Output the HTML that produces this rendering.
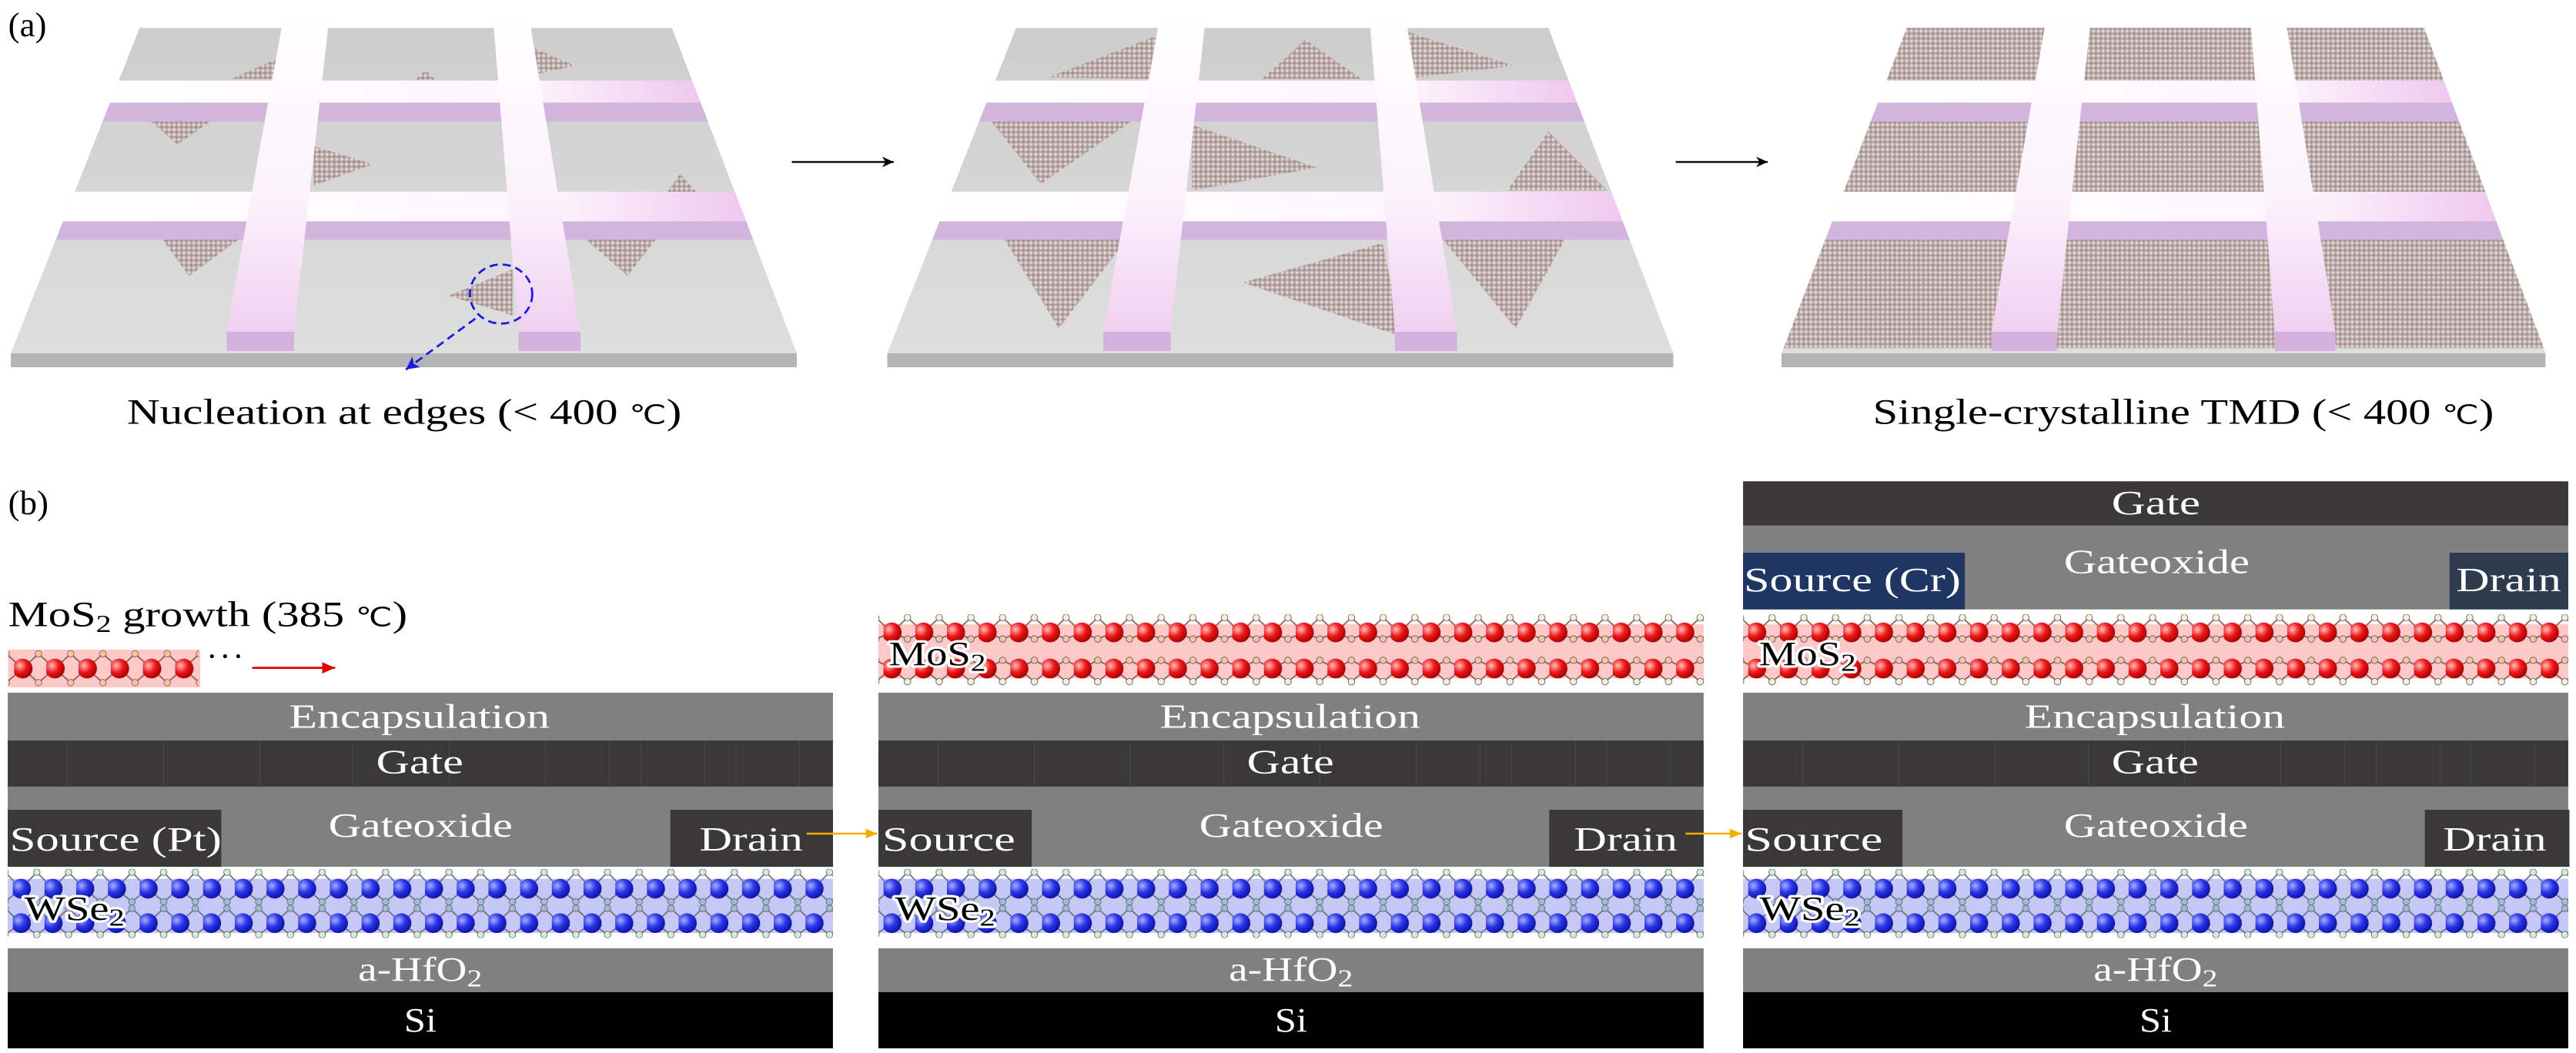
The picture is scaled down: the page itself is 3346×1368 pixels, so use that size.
<!DOCTYPE html>
<html><head><meta charset="utf-8"><style>
html,body{margin:0;padding:0;background:#fff;}
svg{display:block;}
text{font-family:"Liberation Serif",serif;}
</style></head><body>
<svg width="3346" height="1368" viewBox="0 0 1568 641.06" preserveAspectRatio="none" xmlns="http://www.w3.org/2000/svg">
<defs>
<linearGradient id="slabg" x1="0" y1="0" x2="0" y2="1"><stop offset="0" stop-color="#cdcdcd"/><stop offset="1" stop-color="#dedede"/></linearGradient>
<linearGradient id="hbar" x1="0" y1="0" x2="1" y2="0"><stop offset="0" stop-color="#ffffff"/><stop offset="0.7" stop-color="#fdf6fd"/><stop offset="1" stop-color="#efc8ef"/></linearGradient>
<linearGradient id="vbar" x1="0" y1="0" x2="0" y2="1"><stop offset="0" stop-color="#ffffff"/><stop offset="0.6" stop-color="#fcf0fc"/><stop offset="1" stop-color="#f0d0f0"/></linearGradient>
<radialGradient id="bg" cx="0.35" cy="0.35" r="0.7"><stop offset="0" stop-color="#a8b0ff"/><stop offset="0.5" stop-color="#2a35e8"/><stop offset="1" stop-color="#0a10a0"/></radialGradient>
<radialGradient id="rg" cx="0.35" cy="0.35" r="0.7"><stop offset="0" stop-color="#ffc0c0"/><stop offset="0.5" stop-color="#f01818"/><stop offset="1" stop-color="#a00000"/></radialGradient>
<pattern id="tex" patternUnits="userSpaceOnUse" width="3" height="3">
<rect width="3" height="3" fill="#b8aaa8"/><circle cx="1" cy="1" r="0.8" fill="#ecd8d2"/><circle cx="2.4" cy="2.4" r="0.5" fill="#8a7a7e"/>
</pattern>
<pattern id="wse" patternUnits="userSpaceOnUse" x="7.8" y="529" width="19.3" height="42">
<g stroke="#6d6a80" stroke-width="0.8" fill="none">
<polyline points="-4.7,2 5,12 14.6,2 24.3,12"/><polyline points="-4.7,20 5,12 14.6,20 24.3,12"/>
<polyline points="-4.7,24 5,33 14.6,24 24.3,33"/><polyline points="-4.7,40 5,33 14.6,40 24.3,33"/>
</g>
<g stroke="#4a6a7a" stroke-width="0.4">
<circle cx="14.6" cy="2" r="2" fill="#d9ecd2"/><circle cx="14.6" cy="40" r="2" fill="#d9ecd2"/>
<circle cx="14.6" cy="20" r="2" fill="#a8b8d0"/><circle cx="14.6" cy="24" r="2" fill="#a8b8d0"/>
<circle cx="-4.7" cy="2" r="2" fill="#d9ecd2"/><circle cx="-4.7" cy="40" r="2" fill="#d9ecd2"/>
<circle cx="-4.7" cy="20" r="2" fill="#a8b8d0"/><circle cx="-4.7" cy="24" r="2" fill="#a8b8d0"/>
</g>
<circle cx="5" cy="12" r="6" fill="url(#bg)"/><circle cx="5" cy="33" r="6" fill="url(#bg)"/>
</pattern>
<pattern id="mos" patternUnits="userSpaceOnUse" x="7.8" y="374" width="19.3" height="44">
<g stroke="#8a5a5a" stroke-width="0.8" fill="none">
<polyline points="-4.7,2 5,11 14.6,2 24.3,11"/><polyline points="-4.7,15 5,11 14.6,15 24.3,11"/>
<polyline points="-4.7,28 5,33 14.6,28 24.3,33"/><polyline points="-4.7,41 5,33 14.6,41 24.3,33"/>
</g>
<g stroke="#4a5a7a" stroke-width="0.4">
<circle cx="14.6" cy="2" r="2" fill="#fff3cc"/><circle cx="14.6" cy="41" r="2" fill="#fff3cc"/>
<circle cx="14.6" cy="15" r="2" fill="#f8c49a"/><circle cx="14.6" cy="28" r="2" fill="#f8c49a"/>
<circle cx="-4.7" cy="2" r="2" fill="#fff3cc"/><circle cx="-4.7" cy="41" r="2" fill="#fff3cc"/>
<circle cx="-4.7" cy="15" r="2" fill="#f8c49a"/><circle cx="-4.7" cy="28" r="2" fill="#f8c49a"/>
</g>
<circle cx="5" cy="11" r="6" fill="url(#rg)"/><circle cx="5" cy="33" r="6" fill="url(#rg)"/>
</pattern>
<pattern id="mos1" patternUnits="userSpaceOnUse" x="8.6" y="395" width="19.6" height="24">
<g stroke="#8a5a5a" stroke-width="0.8" fill="none">
<polyline points="-4.8,3 5.2,12 14.8,3 24.8,12"/><polyline points="-4.8,20.6 5.2,12 14.8,20.6 24.8,12"/>
</g>
<g stroke="#8a5a5a" stroke-width="0.4" fill="#f8c49a">
<circle cx="14.8" cy="3" r="2"/><circle cx="14.8" cy="20.6" r="2"/><circle cx="-4.8" cy="3" r="2"/><circle cx="-4.8" cy="20.6" r="2"/>
</g>
<circle cx="5.2" cy="12" r="6" fill="url(#rg)"/>
</pattern>
<marker id="mk" markerWidth="8" markerHeight="8" refX="7" refY="4" orient="auto" markerUnits="userSpaceOnUse"><path d="M0,0.8 L7,4 L0,7.2 L2,4 Z" fill="#000"/></marker>
<marker id="mr" markerWidth="9" markerHeight="8" refX="8" refY="4" orient="auto" markerUnits="userSpaceOnUse"><path d="M0,0.5 L8,4 L0,7.5 Z" fill="#e00000"/></marker>
<marker id="my" markerWidth="8" markerHeight="7" refX="7" refY="3.5" orient="auto" markerUnits="userSpaceOnUse"><path d="M0,0.5 L7,3.5 L0,6.5 Z" fill="#f0b000"/></marker>
<marker id="mb" markerWidth="9" markerHeight="8" refX="8" refY="4" orient="auto" markerUnits="userSpaceOnUse"><path d="M0,0 L8,4 L0,8 L2,4 Z" fill="#1a1ae0"/></marker>

<g id="slab">
<polygon points="6.6,215 485,215 485,223.6 6.6,223.6" fill="#b4b4b6"/>
<polygon points="85,17 409,17 485,215 6.6,215" fill="url(#slabg)"/>
</g>
<g id="bars">
<polygon points="72.3,49 421.3,49 426.5,62.5 67,62.5" fill="url(#hbar)"/>
<polygon points="67,62.5 426.5,62.5 430.9,74 62.4,74" fill="#d2b4dc"/>
<polygon points="45.5,116.7 447.3,116.7 454.2,134.8 38.4,134.8" fill="url(#hbar)"/>
<polygon points="38.4,134.8 454.2,134.8 458.5,146 34,146" fill="#d2b4dc"/>
<polygon points="172.6,10 200.5,10 179,202 138,202" fill="url(#vbar)"/>
<polygon points="138,202 179,202 179,213.7 138,213.7" fill="#d4b0dc"/>
<polygon points="300,10 322,10 353.4,202 315.6,202" fill="url(#vbar)"/>
<polygon points="315.6,202 353.4,202 353.4,213.7 315.6,213.7" fill="#d4b0dc"/>
</g>
</defs>

<text x="5" y="22" font-size="21" fill="#000">(a)</text>

<use href="#slab"/>
<g fill="url(#tex)">
<polygon points="168,36 141,48 168,48"/>
<polygon points="259,42.7 253,48.6 265,48.6"/>
<polygon points="322,28 322,46 350,40"/>
<polygon points="92,74 128,74 108,88"/>
<polygon points="191,89 191,113 227,100"/>
<polygon points="414,106 406,117 424,117"/>
<polygon points="99,146 145,146 115,168"/>
<polygon points="357,146 399,146 382,168"/>
<polygon points="312,164 312,192 273,180"/>
</g>
<use href="#bars"/>
<ellipse cx="305" cy="179" rx="19" ry="18" fill="none" stroke="#1a1ae0" stroke-width="1.3" stroke-dasharray="5,3"/>
<line x1="289.3" y1="194" x2="247" y2="225" stroke="#1a1ae0" stroke-width="1.3" stroke-dasharray="5,3" marker-end="url(#mb)"/>

<line x1="482" y1="98.6" x2="544" y2="98.6" stroke="#000" stroke-width="1.1" marker-end="url(#mk)"/>

<g transform="translate(533.5,0)">
<use href="#slab"/>
<g fill="url(#tex)">
<polygon points="170,22 105,47 169,48"/>
<polygon points="261,24 235,48 295,48"/>
<polygon points="322,19 322,48 388,40"/>
<polygon points="70,74 155,74 100,112"/>
<polygon points="192,76 192,116 268,102"/>
<polygon points="409,80 384,116 445,116"/>
<polygon points="78,146 152,146 111,200"/>
<polygon points="308,148 223,172 320,205"/>
<polygon points="345,146 419,146 389,200"/>
</g>
<use href="#bars"/>
</g>

<line x1="1020" y1="98.6" x2="1076" y2="98.6" stroke="#000" stroke-width="1.1" marker-end="url(#mk)"/>

<g transform="translate(1078,0) scale(0.972,1)">
<use href="#slab"/>
<g fill="url(#tex)">
<polygon points="85,17 171.3,17 165.6,49 72.3,49"/>
<polygon points="199.7,17 300.6,17 303.2,49 196.1,49"/>
<polygon points="323.1,17 409,17 421.3,49 328.4,49"/>
<polygon points="62.4,74 161.1,74 153.4,116.7 45.5,116.7"/>
<polygon points="193.3,74 305.2,74 308.7,116.7 188.6,116.7"/>
<polygon points="332.5,74 430.9,74 447.3,116.7 339.5,116.7"/>
<polygon points="33.9,146 148.1,146 139,212 8,212"/>
<polygon points="185.3,146 311.1,146 316,212 178.5,212"/>
<polygon points="344.3,146 458.5,146 484,212 354,212"/>
</g>
<use href="#bars"/>
</g>

<text x="77.3" y="258" font-size="22" fill="#000" textLength="337.6" lengthAdjust="spacingAndGlyphs">Nucleation at edges (&lt; 400 <tspan font-size="16">℃</tspan>)</text>
<text x="1140" y="258" font-size="22" fill="#000" textLength="378" lengthAdjust="spacingAndGlyphs">Single-crystalline TMD (&lt; 400 <tspan font-size="16">℃</tspan>)</text>

<text x="5" y="313" font-size="21" fill="#000">(b)</text>

<text x="5" y="381.3" font-size="22" fill="#000" textLength="243" lengthAdjust="spacingAndGlyphs">MoS<tspan font-size="15" dy="3.5">2</tspan><tspan dy="-3.5"> growth (385 </tspan><tspan font-size="16">℃</tspan>)</text>
<rect x="4.9" y="395.5" width="117" height="23" fill="#fcc8c8"/>
<rect x="4.9" y="395" width="116" height="24" fill="url(#mos1)"/>
<circle cx="129" cy="399.5" r="1.2" fill="#000"/><circle cx="137" cy="399.5" r="1.2" fill="#000"/><circle cx="145" cy="399.5" r="1.2" fill="#000"/>
<line x1="153.5" y1="406.6" x2="204" y2="406.6" stroke="#e00000" stroke-width="1.3" marker-end="url(#mr)"/>

<g id="p1">
<rect x="4.7" y="421.7" width="502.3" height="29.1" fill="#808080"/>
<rect x="4.7" y="450.8" width="502.3" height="28.1" fill="#3a3839"/>
<g stroke="#555" stroke-width="0.3"><line x1="41" y1="451" x2="41" y2="479"/><line x1="99.6" y1="451" x2="99.6" y2="479"/><line x1="158" y1="451" x2="158" y2="479"/><line x1="215" y1="451" x2="215" y2="479"/><line x1="273.5" y1="451" x2="273.5" y2="479"/><line x1="332" y1="451" x2="332" y2="479"/><line x1="371" y1="451" x2="371" y2="479"/><line x1="390" y1="451" x2="390" y2="479"/><line x1="429" y1="451" x2="429" y2="479"/><line x1="448" y1="451" x2="448" y2="479"/><line x1="486.5" y1="451" x2="486.5" y2="479"/></g>
<rect x="4.7" y="478.9" width="502.3" height="48.8" fill="#808080"/>
<rect x="4.7" y="535" width="502.3" height="33" fill="#c5c8f5"/>
<rect x="4.7" y="529" width="502.3" height="42" fill="url(#wse)"/>
<rect x="4.7" y="577.3" width="502.3" height="26.7" fill="#808080"/>
<rect x="4.7" y="604" width="502.3" height="34.2" fill="#000"/>
<g fill="#fff" font-size="21">
<text x="176" y="443" textLength="158.6" lengthAdjust="spacingAndGlyphs">Encapsulation</text>
<text x="229" y="470.7" textLength="53" lengthAdjust="spacingAndGlyphs">Gate</text>
<text x="200" y="509.5" textLength="112" lengthAdjust="spacingAndGlyphs">Gateoxide</text>
<text x="218" y="597" textLength="75.5" lengthAdjust="spacingAndGlyphs">a-HfO<tspan font-size="15" dy="3.5">2</tspan></text>
<text x="246" y="628" textLength="19.7" lengthAdjust="spacingAndGlyphs">Si</text>
</g>
</g>
<rect x="4.7" y="493" width="130" height="34.7" fill="#3a3839"/>
<rect x="408" y="493" width="99" height="34.7" fill="#3a3839"/>
<g fill="#fff" font-size="21">
<text x="5.9" y="517.8" textLength="129" lengthAdjust="spacingAndGlyphs">Source (Pt)</text>
<text x="425.7" y="517.8" textLength="63" lengthAdjust="spacingAndGlyphs">Drain</text>
</g>
<text x="14.8" y="560" font-size="21" fill="#000" stroke="#fff" stroke-width="3" paint-order="stroke" stroke-linejoin="round" textLength="61" lengthAdjust="spacingAndGlyphs">WSe<tspan font-size="15" dy="3.5">2</tspan></text>
<line x1="491" y1="507.5" x2="534" y2="507.5" stroke="#f0b000" stroke-width="1.2" marker-end="url(#my)"/>

<g transform="translate(530,0)">
<use href="#p1"/>
<rect x="4.7" y="380" width="502.3" height="33" fill="#fcc8c8"/>
<rect x="4.7" y="374" width="502.3" height="44" fill="url(#mos)"/>
<text x="11" y="405" font-size="21" fill="#000" stroke="#fff" stroke-width="3" paint-order="stroke" stroke-linejoin="round" textLength="59" lengthAdjust="spacingAndGlyphs">MoS<tspan font-size="15" dy="3.5">2</tspan></text>
<rect x="4.7" y="493" width="93.3" height="34.7" fill="#3a3839"/>
<rect x="413" y="493" width="94" height="34.7" fill="#3a3839"/>
<g fill="#fff" font-size="21">
<text x="7" y="517.8" textLength="81" lengthAdjust="spacingAndGlyphs">Source</text>
<text x="428" y="517.8" textLength="63" lengthAdjust="spacingAndGlyphs">Drain</text>
</g>
<text x="14.8" y="560" font-size="21" fill="#000" stroke="#fff" stroke-width="3" paint-order="stroke" stroke-linejoin="round" textLength="61" lengthAdjust="spacingAndGlyphs">WSe<tspan font-size="15" dy="3.5">2</tspan></text>
</g>
<line x1="1026" y1="507.5" x2="1060" y2="507.5" stroke="#f0b000" stroke-width="1.2" marker-end="url(#my)"/>

<g transform="translate(1056.3,0)">
<use href="#p1"/>
<rect x="4.7" y="293" width="502.3" height="27" fill="#3a3839"/>
<rect x="4.7" y="320" width="502.3" height="51" fill="#808080"/>
<rect x="4.7" y="336.5" width="135" height="34.5" fill="#203662"/>
<rect x="434.7" y="336.5" width="72.3" height="34.5" fill="#2e3a4e"/>
<g fill="#fff" font-size="21">
<text x="229" y="313" textLength="54" lengthAdjust="spacingAndGlyphs">Gate</text>
<text x="200" y="349" textLength="113" lengthAdjust="spacingAndGlyphs">Gateoxide</text>
<text x="5.2" y="360" textLength="132" lengthAdjust="spacingAndGlyphs">Source (Cr)</text>
<text x="438.7" y="360" textLength="64" lengthAdjust="spacingAndGlyphs">Drain</text>
</g>
<rect x="4.7" y="380" width="502.3" height="33" fill="#fcc8c8"/>
<rect x="4.7" y="374" width="502.3" height="44" fill="url(#mos)"/>
<text x="14.4" y="405" font-size="21" fill="#000" stroke="#fff" stroke-width="3" paint-order="stroke" stroke-linejoin="round" textLength="59" lengthAdjust="spacingAndGlyphs">MoS<tspan font-size="15" dy="3.5">2</tspan></text>
<rect x="4.7" y="493" width="97" height="34.7" fill="#3a3839"/>
<rect x="419.7" y="493" width="88" height="34.7" fill="#3a3839"/>
<g fill="#fff" font-size="21">
<text x="5.7" y="517.8" textLength="84" lengthAdjust="spacingAndGlyphs">Source</text>
<text x="430.7" y="517.8" textLength="63" lengthAdjust="spacingAndGlyphs">Drain</text>
</g>
<text x="14.8" y="560" font-size="21" fill="#000" stroke="#fff" stroke-width="3" paint-order="stroke" stroke-linejoin="round" textLength="61" lengthAdjust="spacingAndGlyphs">WSe<tspan font-size="15" dy="3.5">2</tspan></text>
</g>
</svg>
</body></html>
